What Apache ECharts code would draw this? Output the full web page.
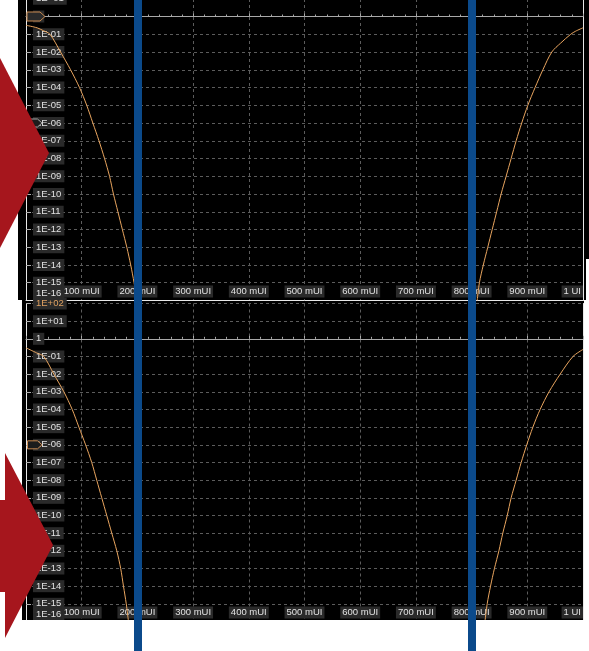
<!DOCTYPE html>
<html>
<head>
<meta charset="utf-8">
<script src="https://cdn.jsdelivr.net/npm/echarts@6/dist/echarts.min.js"></script>
<style>
  html, body { margin: 0; padding: 0; background: #fff; }
  #c { width: 589px; height: 651px; }
</style>
</head>
<body>
<div id="c"></div>
<script>
// Bathtub curves: bit error ratio versus sampling position (UI)
const upperLeftUI   = [0, 0.020, 0.031, 0.043, 0.062, 0.080, 0.096, 0.109, 0.120, 0.131, 0.141, 0.150, 0.157, 0.165, 0.173, 0.181, 0.188, 0.194, 0.199];
const upperLeftBER  = [0.32, 0.23, 0.16, 1e-1, 1e-2, 1e-3, 1e-4, 1e-5, 1e-6, 1e-7, 1e-8, 1e-9, 1e-10, 1e-11, 1e-12, 1e-13, 1e-14, 1e-15, 1e-16];
const upperRightUI  = [0.810, 0.814, 0.821, 0.829, 0.837, 0.845, 0.853, 0.862, 0.871, 0.880, 0.890, 0.901, 0.914, 0.928, 0.944, 0.960, 0.978, 0.987, 1.0];
const upperRightBER = [1e-16, 1e-15, 1e-14, 1e-13, 1e-12, 1e-11, 1e-10, 1e-9, 1e-8, 1e-7, 1e-6, 1e-5, 1e-4, 1e-3, 1e-2, 0.032, 1e-1, 0.15, 0.23];

const lowerLeftUI   = [0, 0.019, 0.032, 0.050, 0.068, 0.083, 0.095, 0.107, 0.118, 0.127, 0.136, 0.145, 0.154, 0.163, 0.170, 0.175, 0.180, 0.184];
const lowerLeftBER  = [0.31, 0.16, 1e-1, 1e-2, 1e-3, 1e-4, 1e-5, 1e-6, 1e-7, 1e-8, 1e-9, 1e-10, 1e-11, 1e-12, 1e-13, 1e-14, 1e-15, 1e-16];
const lowerRightUI  = [0.824, 0.828, 0.834, 0.841, 0.849, 0.856, 0.864, 0.871, 0.880, 0.889, 0.899, 0.910, 0.923, 0.939, 0.959, 0.982, 1.0];
const lowerRightBER = [1e-16, 1e-15, 1e-14, 1e-13, 1e-12, 1e-11, 1e-10, 1e-9, 1e-8, 1e-7, 1e-6, 1e-5, 1e-4, 1e-3, 1e-2, 1e-1, 0.25];

// Vertical cursors (UI)
const cursorUI = [0.202, 0.801];
// Reference levels marked on the BER axis
const refLevelTop = 1;
const refLevelBer = 1e-6;
// BER axis range
const berMin = 1e-16;
const berMax = 1e2;

const FONT = 'Liberation Sans';
const FONT_SIZE = 9.5;
const LABEL_BG = '#2a2a2a';
const LABEL_FG = '#e2e2e2';
const GRID_LINE = { color: '#5c5c5c', type: [3, 3], width: 1 };
const BORDER = '#e8e8e8';
const ORANGE = '#e9a55f';

function zip(xs, ys) { return xs.map((x, i) => [x, ys[i]]); }

function berLabel(v) {
  const e = Math.round(Math.log10(v));
  if (e === 0) return '1';
  const a = Math.abs(e);
  return '1E' + (e > 0 ? '+' : '-') + (a < 10 ? '0' : '') + a;
}

function berAxis(gridIndex, orangeTop) {
  return {
    type: 'log', logBase: 10, gridIndex, min: berMin, max: berMax, interval: 1,
    axisLine: { show: true, lineStyle: { color: BORDER, width: 1 } },
    axisTick: { show: true, inside: true, length: 5, lineStyle: { color: '#b0b0b0' } },
    axisLabel: {
      inside: true, margin: 7, align: 'left', showMinLabel: false, hideOverlap: false,
      fontFamily: FONT, fontSize: FONT_SIZE, lineHeight: 10, color: LABEL_FG,
      backgroundColor: LABEL_BG, padding: [1, 3, 1, 3],
      formatter: v => {
        const t = berLabel(v);
        return (orangeTop && Math.round(Math.log10(v)) === 2) ? '{o|' + t + '}' : t;
      },
      rich: { o: { color: '#e0a262', fontFamily: FONT, fontSize: FONT_SIZE, lineHeight: 10 } }
    },
    splitLine: { show: true, lineStyle: GRID_LINE }
  };
}

function uiAxis(gridIndex) {
  return {
    type: 'value', gridIndex, min: 0, max: 1, interval: 0.1, position: 'bottom',
    axisLine: { show: true, onZero: false, lineStyle: { color: BORDER, width: 1 } },
    axisTick: { show: false },
    axisLabel: {
      inside: true, margin: 3, showMinLabel: false, alignMaxLabel: 'right', hideOverlap: false,
      fontFamily: FONT, fontSize: FONT_SIZE, lineHeight: 10, color: LABEL_FG,
      backgroundColor: LABEL_BG, padding: [1, 2, 1, 2],
      formatter: v => v >= 0.999 ? '1 UI' : Math.round(v * 1000) + ' mUI'
    },
    splitLine: { show: true, lineStyle: GRID_LINE }
  };
}

// Solid reference line at BER = 1 with its tick marks
function unityAxis(gridIndex) {
  return {
    type: 'value', gridIndex, min: 0, max: 1, interval: 0.1, position: 'top', offset: 0,
    axisLine: { show: true, onZero: false, lineStyle: { color: '#a8a8a8', width: 1 } },
    axisTick: { show: true, length: 3, lineStyle: { color: '#a8a8a8' } },
    minorTick: { show: true, splitNumber: 5, length: 2, lineStyle: { color: '#a8a8a8' } },
    axisLabel: { show: false },
    splitLine: { show: false }
  };
}

function borderAxis(gridIndex) {
  return {
    type: 'value', gridIndex, position: 'right', min: 0, max: 1,
    axisLine: { show: true, onZero: false, lineStyle: { color: BORDER, width: 1 } },
    axisTick: { show: false }, axisLabel: { show: false }, splitLine: { show: false }
  };
}

const curve = {
  type: 'line', showSymbol: false, symbol: 'none', smooth: 0.3, silent: true, z: 3,
  lineStyle: { color: ORANGE, width: 1 }
};

const chart = echarts.init(document.getElementById('c'), null, { renderer: 'canvas' });

const backgrounds = [
  { type: 'rect', shape: { x: 18, y: 0, width: 568, height: 300 }, style: { fill: '#000' }, z: -10, silent: true },
  { type: 'rect', shape: { x: 586, y: 0, width: 3, height: 259 }, style: { fill: '#000' }, z: -10, silent: true },
  { type: 'rect', shape: { x: 22, y: 300, width: 562, height: 320 }, style: { fill: '#000' }, z: -10, silent: true },
  { type: 'rect', shape: { x: 0, y: 620, width: 589, height: 31 }, style: { fill: '#fff' }, z: 50, silent: true },
  // red call-out arrows
  { type: 'polygon', shape: { points: [[0, 58], [49, 153], [0, 248]] }, style: { fill: '#a6161d' }, z: 60, silent: true },
  { type: 'polygon', shape: { points: [[0, 500], [5, 500], [5, 453], [53, 545], [5, 638], [5, 592], [0, 592]] }, style: { fill: '#a6161d' }, z: 60, silent: true }
];

const gridBase = { left: 26, width: 557, containLabel: false, outerBoundsMode: 'none' };

const option = {
  backgroundColor: '#fff',
  animation: false,
  grid: [
    Object.assign({}, gridBase, { top: -19, height: 319.5 }),
    Object.assign({}, gridBase, { top: 303.5, height: 318 }),
    Object.assign({}, gridBase, { top: 0, height: 651 })
  ],
  xAxis: [
    uiAxis(0), uiAxis(1), unityAxis(0), unityAxis(1),
    { type: 'value', gridIndex: 2, min: 0, max: 1, show: false }
  ],
  yAxis: [
    berAxis(0, false), berAxis(1, true), borderAxis(0), borderAxis(1),
    { type: 'value', gridIndex: 2, min: 0, max: 1, show: false }
  ],
  series: [
    Object.assign({}, curve, { xAxisIndex: 0, yAxisIndex: 0, data: zip(upperLeftUI, upperLeftBER) }),
    Object.assign({}, curve, { xAxisIndex: 0, yAxisIndex: 0, data: zip(upperRightUI, upperRightBER) }),
    Object.assign({}, curve, { xAxisIndex: 1, yAxisIndex: 1, data: zip(lowerLeftUI, lowerLeftBER) }),
    Object.assign({}, curve, { xAxisIndex: 1, yAxisIndex: 1, data: zip(lowerRightUI, lowerRightBER) }),
    {
      type: 'line', xAxisIndex: 4, yAxisIndex: 4, data: [], z: 70, silent: true,
      markLine: {
        silent: true, z: 70, symbol: ['none', 'none'], label: { show: false },
        lineStyle: { color: '#0b4a8b', width: 8, type: 'solid' },
        data: cursorUI.map(v => ({ xAxis: v }))
      }
    }
  ],
  graphic: { elements: backgrounds }
};

chart.setOption(option);

// Second pass: place the BER = 1 line, the reference-level tags and the bottom labels
const gridTops = [-19, 303.5];
const extra = [];
const unityOffsets = [];
[0, 1].forEach(i => {
  const yUnity = chart.convertToPixel({ yAxisIndex: i }, refLevelTop);
  const yRef = chart.convertToPixel({ yAxisIndex: i }, refLevelBer);
  const yMin = chart.convertToPixel({ yAxisIndex: i }, berMin);
  const x0 = chart.convertToPixel({ xAxisIndex: i }, 0);
  unityOffsets.push(gridTops[i] - yUnity);

  // lowest decade label, kept inside the plot
  extra.push({
    type: 'text', x: x0 + 7, y: yMin - 7, z: 5, silent: true,
    style: {
      text: berLabel(berMin), fill: LABEL_FG, font: FONT_SIZE + 'px "' + FONT + '"',
      backgroundColor: LABEL_BG, padding: [1, 3, 1, 3], align: 'left', verticalAlign: 'middle', lineHeight: 10
    }
  });
  // tag on the 1E-06 reference level
  extra.push({
    type: 'polygon', z: 6, silent: true,
    shape: { points: [[x0 + 1.5, yRef - 4], [x0 + 11.5, yRef - 4], [x0 + 16, yRef], [x0 + 11.5, yRef + 4], [x0 + 1.5, yRef + 4]] },
    style: { fill: '#1c1c1c', stroke: i === 0 ? '#a4a4a4' : '#c98a50', lineWidth: 1 }
  });
  if (i === 0) {
    // tag on the BER = 1 level
    extra.push({
      type: 'polygon', z: 6, silent: true,
      shape: { points: [[x0 + 1, yUnity - 4.5], [x0 + 14, yUnity - 4.5], [x0 + 19, yUnity], [x0 + 14, yUnity + 4.5], [x0 + 1, yUnity + 4.5]] },
      style: { fill: '#2b2b2b', stroke: '#c98a50', lineWidth: 1 }
    });
  }
});

chart.setOption({
  xAxis: [{}, {}, { offset: unityOffsets[0] }, { offset: unityOffsets[1] }, {}],
  graphic: { elements: backgrounds.concat(extra) }
});
</script>
</body>
</html>
